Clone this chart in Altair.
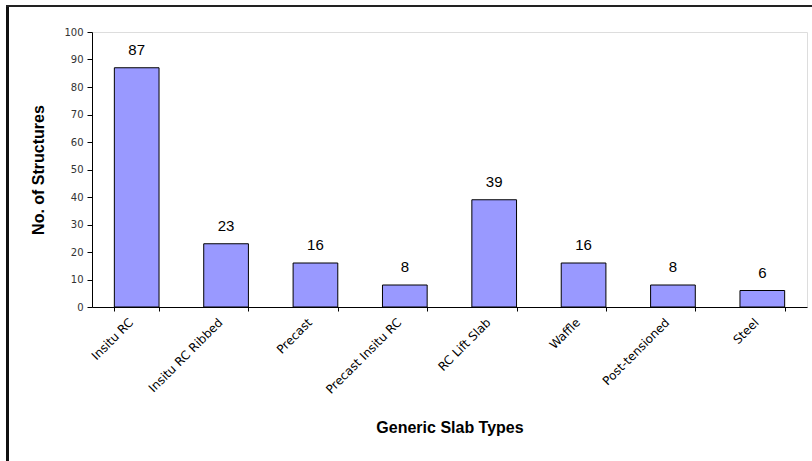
import altair as alt
import pandas as pd

# Generic slab types and the number of structures of each
slab_types = [
    "Insitu RC",
    "Insitu RC Ribbed",
    "Precast",
    "Precast Insitu RC",
    "RC Lift Slab",
    "Waffle",
    "Post-tensioned",
    "Steel",
]
structure_counts = [87, 23, 16, 8, 39, 16, 8, 6]
y_ticks = [0, 10, 20, 30, 40, 50, 60, 70, 80, 90, 100]

df = pd.DataFrame({"Slab": slab_types, "Count": structure_counts})

x_enc = alt.X(
    "Slab:N",
    sort=slab_types,
    scale=alt.Scale(paddingInner=0.5, paddingOuter=0.25),
    axis=alt.Axis(
        title="Generic Slab Types",
        titleFont="Liberation Sans",
        titleFontWeight="bold",
        titleFontSize=16,
        titleColor="#000000",
        titleBaseline="middle",
        titleY=120,
        labelAngle=-45,
        labelAlign="right",
        labelBaseline="middle",
        labelFont="DejaVu Sans",
        labelFontSize=12,
        labelColor="#000000",
        labelPadding=9,
        labelOffset=-6,
        labelOverlap=False,
        domainColor="#000000",
        tickColor="#000000",
        tickSize=4,
        tickBand="extent",
        grid=False,
    ),
)

y_enc = alt.Y(
    "Count:Q",
    scale=alt.Scale(domain=[0, 100], nice=False),
    axis=alt.Axis(
        title="No. of Structures",
        titleFont="Liberation Sans",
        titleFontWeight="bold",
        titleFontSize=16,
        titleColor="#000000",
        titleAngle=-90,
        titleAlign="center",
        titleBaseline="middle",
        titleX=-54,
        values=y_ticks,
        tickCount=11,
        labelOverlap=False,
        labelFont="DejaVu Sans",
        labelFontSize=10,
        labelColor="#333333",
        labelPadding=4,
        domainColor="#000000",
        tickColor="#000000",
        tickSize=5,
        grid=False,
    ),
)

bars = alt.Chart(df).mark_bar(
    color="#9999FF", stroke="#000000", strokeWidth=1
).encode(x=x_enc, y=y_enc)

labels = alt.Chart(df).mark_text(
    font="Liberation Sans", fontSize=15, baseline="bottom", dy=-10, color="#000000"
).encode(x=x_enc, y=y_enc, text="Count:Q")

# frame around the chart (left and top edges)
frame_left = alt.Chart(df).mark_rule(color="#111111", strokeWidth=2).encode(
    x=alt.value(-84.5), y=alt.value(-27), y2=alt.value(440)
)
frame_top = alt.Chart(df).mark_rule(color="#222222", strokeWidth=2).encode(
    x=alt.value(-85.5), x2=alt.value(730), y=alt.value(-26)
)

chart = (
    alt.layer(bars, labels, frame_left, frame_top)
    .properties(
        width=715,
        height=275,
        autosize=alt.AutoSizeParams(type="none"),
        padding={"left": 92, "top": 32, "right": 5, "bottom": 154},
    )
    .configure_view(stroke=None)
    .configure(background="#ffffff")
)

chart.save("out.html", embed_options={"renderer": "svg", "actions": False})
